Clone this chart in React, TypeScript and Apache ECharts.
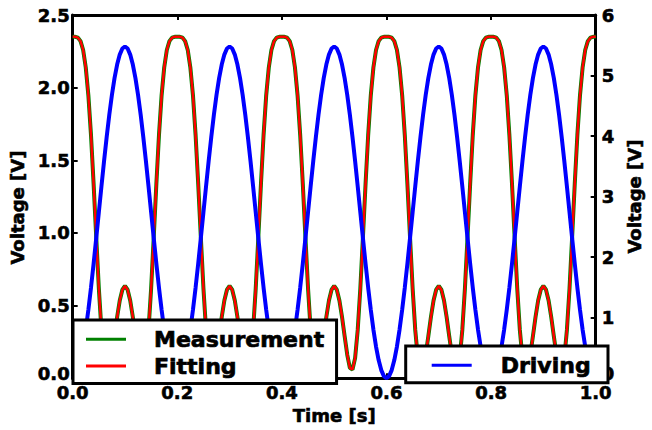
import React, { useEffect, useRef } from "react";
import * as echarts from "echarts";

// Time samples [s]
const timeS = [
  0, 0.005, 0.01, 0.015, 0.02, 0.025, 0.03, 0.035, 0.04, 0.045, 0.05, 0.055, 0.06, 0.065, 0.07, 0.075, 0.08, 0.085, 0.09, 0.095,
  0.1, 0.105, 0.11, 0.115, 0.12, 0.125, 0.13, 0.135, 0.14, 0.145, 0.15, 0.155, 0.16, 0.165, 0.17, 0.175, 0.18, 0.185, 0.19, 0.195,
  0.2, 0.205, 0.21, 0.215, 0.22, 0.225, 0.23, 0.235, 0.24, 0.245, 0.25, 0.255, 0.26, 0.265, 0.27, 0.275, 0.28, 0.285, 0.29, 0.295,
  0.3, 0.305, 0.31, 0.315, 0.32, 0.325, 0.33, 0.335, 0.34, 0.345, 0.35, 0.355, 0.36, 0.365, 0.37, 0.375, 0.38, 0.385, 0.39, 0.395,
  0.4, 0.405, 0.41, 0.415, 0.42, 0.425, 0.43, 0.435, 0.44, 0.445, 0.45, 0.455, 0.46, 0.465, 0.47, 0.475, 0.48, 0.485, 0.49, 0.495,
  0.5, 0.505, 0.51, 0.515, 0.52, 0.525, 0.53, 0.535, 0.54, 0.545, 0.55, 0.555, 0.56, 0.565, 0.57, 0.575, 0.58, 0.585, 0.59, 0.595,
  0.6, 0.605, 0.61, 0.615, 0.62, 0.625, 0.63, 0.635, 0.64, 0.645, 0.65, 0.655, 0.66, 0.665, 0.67, 0.675, 0.68, 0.685, 0.69, 0.695,
  0.7, 0.705, 0.71, 0.715, 0.72, 0.725, 0.73, 0.735, 0.74, 0.745, 0.75, 0.755, 0.76, 0.765, 0.77, 0.775, 0.78, 0.785, 0.79, 0.795,
  0.8, 0.805, 0.81, 0.815, 0.82, 0.825, 0.83, 0.835, 0.84, 0.845, 0.85, 0.855, 0.86, 0.865, 0.87, 0.875, 0.88, 0.885, 0.89, 0.895,
  0.9, 0.905, 0.91, 0.915, 0.92, 0.925, 0.93, 0.935, 0.94, 0.945, 0.95, 0.955, 0.96, 0.965, 0.97, 0.975, 0.98, 0.985, 0.99, 0.995,
  1.0,
];

// Measurement [V] (left axis)
const measurementV = [
  2.35, 2.35, 2.344, 2.32, 2.259, 2.139, 1.946, 1.674, 1.338, 0.972, 0.619, 0.332, 0.138, 0.06, 0.071, 0.161, 0.289, 0.421, 0.535, 0.609,
  0.635, 0.609, 0.535, 0.421, 0.289, 0.161, 0.071, 0.06, 0.138, 0.332, 0.619, 0.972, 1.338, 1.674, 1.946, 2.139, 2.259, 2.32, 2.344, 2.35,
  2.35, 2.35, 2.344, 2.32, 2.259, 2.139, 1.946, 1.674, 1.338, 0.972, 0.619, 0.332, 0.138, 0.06, 0.071, 0.161, 0.289, 0.421, 0.535, 0.609,
  0.635, 0.609, 0.535, 0.421, 0.289, 0.161, 0.071, 0.06, 0.138, 0.332, 0.619, 0.972, 1.338, 1.674, 1.946, 2.139, 2.259, 2.32, 2.344, 2.35,
  2.35, 2.35, 2.344, 2.32, 2.259, 2.139, 1.946, 1.674, 1.338, 0.972, 0.619, 0.332, 0.138, 0.06, 0.071, 0.161, 0.289, 0.421, 0.535, 0.609,
  0.635, 0.609, 0.535, 0.421, 0.289, 0.161, 0.071, 0.06, 0.138, 0.332, 0.619, 0.972, 1.338, 1.674, 1.946, 2.139, 2.259, 2.32, 2.344, 2.35,
  2.35, 2.35, 2.344, 2.32, 2.259, 2.139, 1.946, 1.674, 1.338, 0.972, 0.619, 0.332, 0.138, 0.06, 0.071, 0.161, 0.289, 0.421, 0.535, 0.609,
  0.635, 0.609, 0.535, 0.421, 0.289, 0.161, 0.071, 0.06, 0.138, 0.332, 0.619, 0.972, 1.338, 1.674, 1.946, 2.139, 2.259, 2.32, 2.344, 2.35,
  2.35, 2.35, 2.344, 2.32, 2.259, 2.139, 1.946, 1.674, 1.338, 0.972, 0.619, 0.332, 0.138, 0.06, 0.071, 0.161, 0.289, 0.421, 0.535, 0.609,
  0.635, 0.609, 0.535, 0.421, 0.289, 0.161, 0.071, 0.06, 0.138, 0.332, 0.619, 0.972, 1.338, 1.674, 1.946, 2.139, 2.259, 2.32, 2.344, 2.35,
  2.35,
];

// Fitting [V] (left axis)
const fittingV = [
  2.35, 2.35, 2.344, 2.32, 2.259, 2.139, 1.946, 1.674, 1.338, 0.972, 0.619, 0.332, 0.138, 0.06, 0.071, 0.161, 0.289, 0.421, 0.535, 0.609,
  0.635, 0.609, 0.535, 0.421, 0.289, 0.161, 0.071, 0.06, 0.138, 0.332, 0.619, 0.972, 1.338, 1.674, 1.946, 2.139, 2.259, 2.32, 2.344, 2.35,
  2.35, 2.35, 2.344, 2.32, 2.259, 2.139, 1.946, 1.674, 1.338, 0.972, 0.619, 0.332, 0.138, 0.06, 0.071, 0.161, 0.289, 0.421, 0.535, 0.609,
  0.635, 0.609, 0.535, 0.421, 0.289, 0.161, 0.071, 0.06, 0.138, 0.332, 0.619, 0.972, 1.338, 1.674, 1.946, 2.139, 2.259, 2.32, 2.344, 2.35,
  2.35, 2.35, 2.344, 2.32, 2.259, 2.139, 1.946, 1.674, 1.338, 0.972, 0.619, 0.332, 0.138, 0.06, 0.071, 0.161, 0.289, 0.421, 0.535, 0.609,
  0.635, 0.609, 0.535, 0.421, 0.289, 0.161, 0.071, 0.06, 0.138, 0.332, 0.619, 0.972, 1.338, 1.674, 1.946, 2.139, 2.259, 2.32, 2.344, 2.35,
  2.35, 2.35, 2.344, 2.32, 2.259, 2.139, 1.946, 1.674, 1.338, 0.972, 0.619, 0.332, 0.138, 0.06, 0.071, 0.161, 0.289, 0.421, 0.535, 0.609,
  0.635, 0.609, 0.535, 0.421, 0.289, 0.161, 0.071, 0.06, 0.138, 0.332, 0.619, 0.972, 1.338, 1.674, 1.946, 2.139, 2.259, 2.32, 2.344, 2.35,
  2.35, 2.35, 2.344, 2.32, 2.259, 2.139, 1.946, 1.674, 1.338, 0.972, 0.619, 0.332, 0.138, 0.06, 0.071, 0.161, 0.289, 0.421, 0.535, 0.609,
  0.635, 0.609, 0.535, 0.421, 0.289, 0.161, 0.071, 0.06, 0.138, 0.332, 0.619, 0.972, 1.338, 1.674, 1.946, 2.139, 2.259, 2.32, 2.344, 2.35,
  2.35,
];

// Driving [V] (right axis)
const drivingV = [
  0, 0.034, 0.134, 0.299, 0.523, 0.803, 1.13, 1.496, 1.893, 2.311, 2.74, 3.169, 3.587, 3.984, 4.351, 4.678, 4.957, 5.181, 5.346, 5.446,
  5.48, 5.446, 5.346, 5.181, 4.957, 4.678, 4.351, 3.984, 3.587, 3.169, 2.74, 2.311, 1.893, 1.496, 1.13, 0.803, 0.523, 0.299, 0.134, 0.034,
  0, 0.034, 0.134, 0.299, 0.523, 0.803, 1.13, 1.496, 1.893, 2.311, 2.74, 3.169, 3.587, 3.984, 4.351, 4.678, 4.957, 5.181, 5.346, 5.446,
  5.48, 5.446, 5.346, 5.181, 4.957, 4.678, 4.351, 3.984, 3.587, 3.169, 2.74, 2.311, 1.893, 1.496, 1.13, 0.803, 0.523, 0.299, 0.134, 0.034,
  0, 0.034, 0.134, 0.299, 0.523, 0.803, 1.13, 1.496, 1.893, 2.311, 2.74, 3.169, 3.587, 3.984, 4.351, 4.678, 4.957, 5.181, 5.346, 5.446,
  5.48, 5.446, 5.346, 5.181, 4.957, 4.678, 4.351, 3.984, 3.587, 3.169, 2.74, 2.311, 1.893, 1.496, 1.13, 0.803, 0.523, 0.299, 0.134, 0.034,
  0, 0.034, 0.134, 0.299, 0.523, 0.803, 1.13, 1.496, 1.893, 2.311, 2.74, 3.169, 3.587, 3.984, 4.351, 4.678, 4.957, 5.181, 5.346, 5.446,
  5.48, 5.446, 5.346, 5.181, 4.957, 4.678, 4.351, 3.984, 3.587, 3.169, 2.74, 2.311, 1.893, 1.496, 1.13, 0.803, 0.523, 0.299, 0.134, 0.034,
  0, 0.034, 0.134, 0.299, 0.523, 0.803, 1.13, 1.496, 1.893, 2.311, 2.74, 3.169, 3.587, 3.984, 4.351, 4.678, 4.957, 5.181, 5.346, 5.446,
  5.48, 5.446, 5.346, 5.181, 4.957, 4.678, 4.351, 3.984, 3.587, 3.169, 2.74, 2.311, 1.893, 1.496, 1.13, 0.803, 0.523, 0.299, 0.134, 0.034,
  0,
];

const FONT = "DejaVu Sans";

export default function App() {
  const ref = useRef<HTMLDivElement>(null);

  useEffect(() => {
    if (!ref.current) return;
    const chart = echarts.init(ref.current, null, { renderer: "svg" });

    const pairs = (vals: number[]) => timeS.map((t, i) => [t, vals[i]]);

    const labelStyle = {
      fontFamily: FONT,
      fontWeight: "bold",
      fontSize: 18,
      color: "#000",
      textBorderColor: "#000",
      textBorderWidth: 0.6,
    };
    const lowRichLeft = {
      lo: { ...labelStyle, lineHeight: 16, padding: [0, 0, 9, 0], align: "right" },
    };
    const lowRichRight = {
      lo: { ...labelStyle, lineHeight: 16, padding: [0, 0, 9, 0], align: "left" },
    };
    const axisLine = { show: true, onZero: false, lineStyle: { color: "#000", width: 3 } };
    const axisTick = { show: true, inside: true, length: 5, lineStyle: { color: "#000", width: 2 } };

    const legendCommon = {
      orient: "vertical",
      backgroundColor: "#fff",
      borderColor: "#000",
      borderWidth: 3,
      borderRadius: 0,
      icon: "rect",
      itemWidth: 40,
      itemHeight: 3,
      itemGap: 4,
      z: 10,
      textStyle: {
        fontFamily: FONT,
        fontWeight: "bold",
        fontSize: 22,
        lineHeight: 22,
        color: "#000",
        textBorderColor: "#000",
        textBorderWidth: 0.7,
      },
    };

    chart.setOption({
      animation: false,
      backgroundColor: "#fff",
      textStyle: { fontFamily: FONT },
      grid: { left: 72, right: 43, top: 15, bottom: 47, containLabel: false },
      legend: [
        {
          ...legendCommon,
          data: ["Measurement", "Fitting"],
          left: 73,
          top: 320,
          padding: [8, 12, 6, 13],
          textStyle: { ...legendCommon.textStyle, padding: [0, 0, 0, 23] },
        },
        {
          ...legendCommon,
          data: ["Driving"],
          right: 44,
          top: 346,
          padding: [8, 17, 6, 26],
          textStyle: { ...legendCommon.textStyle, padding: [0, 0, 0, 24] },
        },
      ],
      xAxis: [
        {
          type: "value",
          position: "bottom",
          min: 0,
          max: 1,
          interval: 0.2,
          name: "Time [s]",
          nameLocation: "middle",
          nameGap: 22,
          nameTextStyle: labelStyle,
          axisLine,
          axisTick,
          splitLine: { show: false },
          axisLabel: {
            ...labelStyle,
            lineHeight: 16,
            margin: 6,
            showMinLabel: true,
            showMaxLabel: true,
            formatter: (v: number) => v.toFixed(1),
          },
        },
        {
          type: "value",
          position: "top",
          min: 0,
          max: 1,
          interval: 0.2,
          axisLine,
          axisTick,
          splitLine: { show: false },
          axisLabel: { show: false },
        },
      ],
      yAxis: [
        {
          type: "value",
          position: "left",
          min: 0,
          max: 2.5,
          interval: 0.5,
          name: "Voltage [V]",
          nameLocation: "middle",
          nameRotate: 90,
          nameGap: 44,
          nameTextStyle: { ...labelStyle, padding: [0, 22, 0, 0] },
          axisLine,
          axisTick,
          splitLine: { show: false },
          axisLabel: {
            ...labelStyle,
            lineHeight: 16,
            margin: 3,
            showMinLabel: true,
            showMaxLabel: true,
            rich: lowRichLeft,
            formatter: (v: number) => (v === 0 ? "{lo|0.0}" : v.toFixed(1)),
          },
        },
        {
          type: "value",
          position: "right",
          min: 0,
          max: 6,
          interval: 1,
          name: "Voltage [V]",
          nameLocation: "middle",
          nameRotate: 90,
          nameGap: 27,
          nameTextStyle: labelStyle,
          axisLine,
          axisTick,
          splitLine: { show: false },
          axisLabel: {
            ...labelStyle,
            lineHeight: 16,
            margin: 6,
            showMinLabel: true,
            showMaxLabel: true,
            rich: lowRichRight,
            formatter: (v: number) => (v === 0 ? "{lo|0}" : String(v)),
          },
        },
      ],
      series: [
        {
          name: "Measurement",
          type: "line",
          xAxisIndex: 0,
          yAxisIndex: 0,
          data: pairs(measurementV),
          symbol: "none",
          showSymbol: false,
          lineStyle: { color: "#008000", width: 4 },
          itemStyle: { color: "#008000" },
          z: 2,
        },
        {
          name: "Fitting",
          type: "line",
          xAxisIndex: 0,
          yAxisIndex: 0,
          data: pairs(fittingV),
          symbol: "none",
          showSymbol: false,
          lineStyle: { color: "#ff0000", width: 2.5 },
          itemStyle: { color: "#ff0000" },
          z: 3,
        },
        {
          name: "Driving",
          type: "line",
          xAxisIndex: 0,
          yAxisIndex: 1,
          data: pairs(drivingV),
          symbol: "none",
          showSymbol: false,
          lineStyle: { color: "#0000ff", width: 4 },
          itemStyle: { color: "#0000ff" },
          z: 4,
        },
      ],
    });

    return () => chart.dispose();
  }, []);

  return (
    <div
      ref={ref}
      style={{ position: "fixed", left: 0, top: 0, width: 652, height: 430, background: "#fff" }}
    />
  );
}
